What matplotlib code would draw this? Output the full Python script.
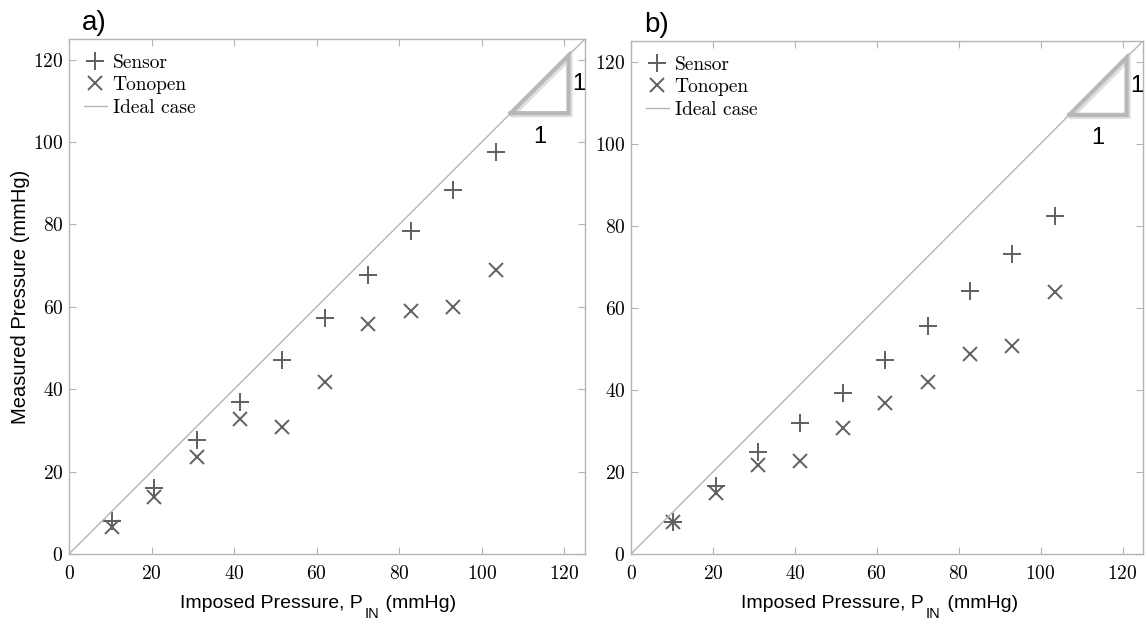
import numpy as np
import matplotlib
matplotlib.use('Agg')
import matplotlib.pyplot as plt
import matplotlib.patheffects as pe

# imposed pressures (0.2 psi steps, in mmHg)
pIn = [10.34, 20.69, 31.03, 41.37, 51.71, 62.06, 72.40, 82.74, 93.08, 103.4]

# panel a)
sensorA = [7.9, 16.1, 27.7, 37.0, 47.1, 57.3, 67.7, 78.3, 88.4, 97.5]
tonoA = [6.6, 13.9, 23.6, 32.8, 30.9, 41.8, 55.9, 58.9, 59.9, 69.0]

# panel b)
sensorB = [7.9, 16.5, 24.9, 31.9, 39.3, 47.3, 55.6, 64.2, 73.1, 82.3]
tonoB = [7.9, 14.8, 21.8, 22.7, 30.8, 36.8, 41.8, 48.8, 50.8, 63.8]

ticks = [0, 20, 40, 60, 80, 100, 120]
ideal = [0, 125]

markCol = '#5f5f5f'
lineCol = '#b4b4b4'
serif = 'cmr10'
sans = ['Liberation Sans', 'DejaVu Sans']

plt.rcParams['axes.formatter.use_mathtext'] = True

W, H = 1147, 623
fig = plt.figure(figsize=(W/100, H/100), dpi=100)
axA = fig.add_axes([69/W, 69/H, 516/W, 515/H])
axB = fig.add_axes([631/W, 69/H, 512/W, 513/H])


def panel(ax, sens, tono, tag, ylab):
    ax.plot(pIn, sens, '+', color=markCol, ms=13, mew=1.4, label='Sensor')
    ax.plot(pIn, tono, 'x', color=markCol, ms=9.5, mew=1.4, label='Tonopen')
    ax.plot(ideal, ideal, '-', color=lineCol, lw=1.0, label='Ideal case')
    ax.set_xlim(0, 125)
    ax.set_ylim(0, 125)
    ax.set_xticks(ticks)
    ax.set_yticks(ticks)
    for s in ax.spines.values():
        s.set_color(lineCol)
        s.set_linewidth(1.0)
    ax.tick_params(direction='in', length=5, width=0.8, color=lineCol,
                   top=True, right=True, labelsize=14, pad=4)
    ax.tick_params(axis='x', pad=8)
    for lb in ax.get_xticklabels() + ax.get_yticklabels():
        lb.set_fontfamily(serif)
    if ylab:
        ax.set_ylabel('Measured Pressure (mmHg)', family=sans, fontsize=14.5,
                      labelpad=2)
    ax.legend(loc='upper left', frameon=False, prop={'family': serif, 'size': 14},
              handlelength=1.2, handletextpad=0.3, labelspacing=0.24,
              borderaxespad=0.3, borderpad=0.45)
    ax.text(0.025, 1.006, tag, transform=ax.transAxes, family=sans, fontsize=20,
            ha='left', va='bottom')

    # slope triangle 1:1
    tri = ax.plot([107, 121, 121, 107], [107, 121, 107, 107], '-',
                  color='#b8b8b8', lw=3, solid_joinstyle='miter', clip_on=False)
    tri[0].set_path_effects([pe.SimpleLineShadow(offset=(1.5, -1.5), shadow_color='#d8d8d8', alpha=0.8),
                             pe.Normal()])
    ax.text(121.8, 114, '1', family=sans, fontsize=17, ha='left', va='center')
    ax.text(114, 104, '1', family=sans, fontsize=17, ha='center', va='top')


def xlab(ax, x0):
    # x label with a lowered subscript, built from three pieces
    t1 = ax.text(x0, -0.105, 'Imposed Pressure, P', transform=ax.transAxes,
                 family=sans, fontsize=14, ha='left', va='baseline')
    fig.canvas.draw()
    r = fig.canvas.get_renderer()
    yb = ax.transAxes.transform((0, -0.105))[1]
    bb = t1.get_window_extent(r)
    t2 = fig.text((bb.x1 + 2)/W, (yb - 10)/H, 'IN', family=sans, fontsize=10.5,
                  ha='left', va='baseline')
    bb2 = t2.get_window_extent(r)
    fig.text((bb2.x1 + 1)/W, yb/H, ' (mmHg)', family=sans, fontsize=14,
             ha='left', va='baseline')


panel(axA, sensorA, tonoA, 'a)', True)
panel(axB, sensorB, tonoB, 'b)', False)
xlab(axA, 0.215)
xlab(axB, 0.215)

fig.savefig('out.png', dpi=100)
